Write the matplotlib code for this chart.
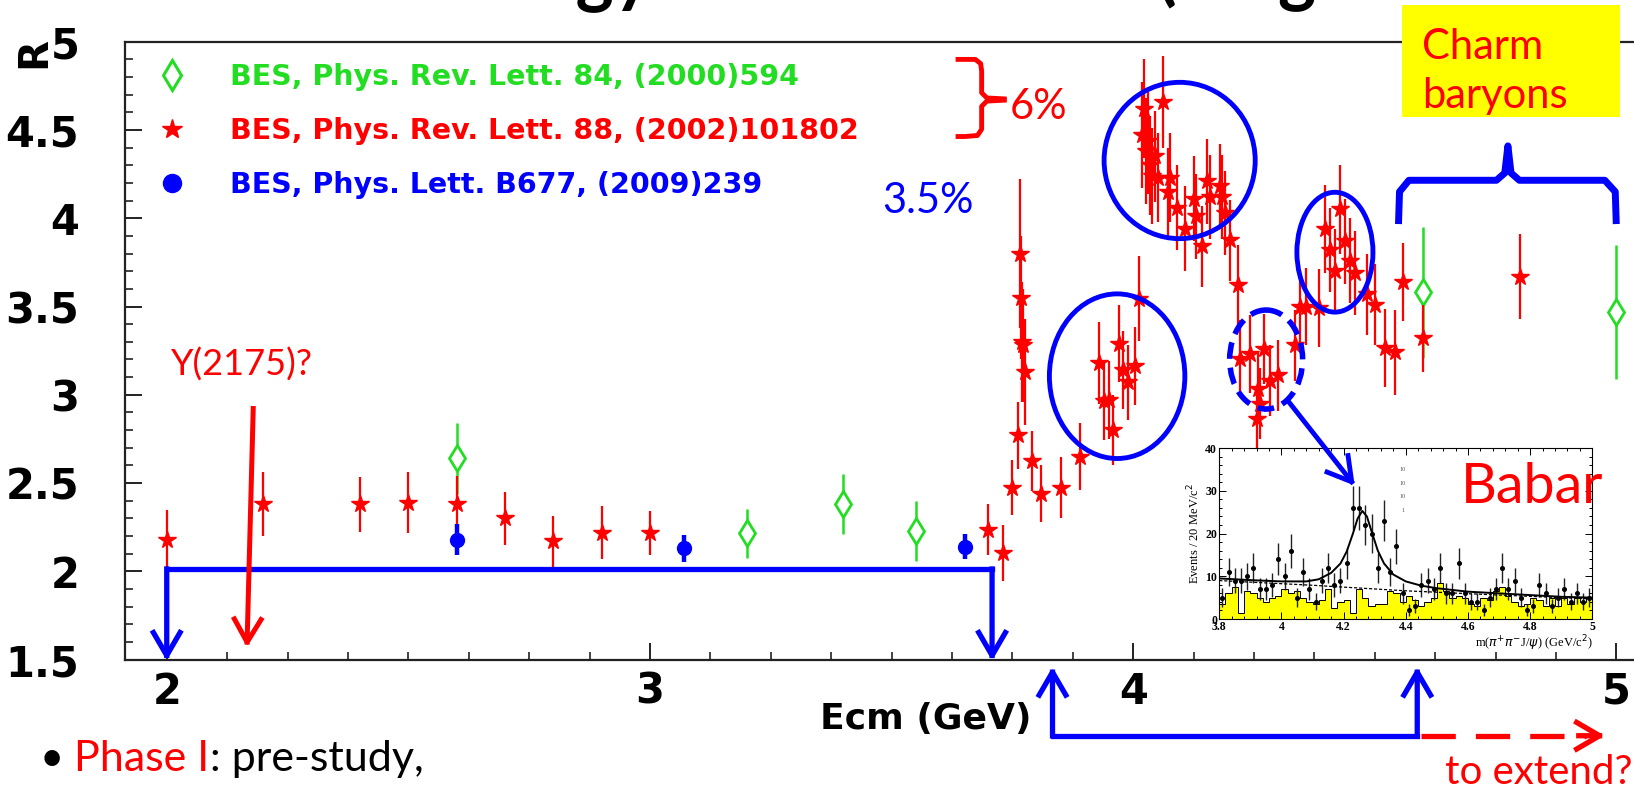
import numpy as np
import matplotlib
matplotlib.use("Agg")
import matplotlib.pyplot as plt
from matplotlib.patches import Ellipse, Rectangle
from matplotlib.lines import Line2D
from matplotlib.ticker import FixedLocator, MultipleLocator, FuncFormatter

plt.rcParams['font.family'] = ['DejaVu Sans']

# ---------------- data ----------------
green_x = [2.6, 3.2, 3.4, 3.55, 4.6, 5.0]
green_y = [2.64, 2.215, 2.38, 2.23, 3.58, 3.47]
green_err = [0.20, 0.14, 0.17, 0.17, 0.37, 0.38]

blue_x = [2.6, 3.07, 3.652]
blue_y = [2.18, 2.13, 2.14]
blue_err = [0.09, 0.075, 0.07]

red_x = [2.000, 2.200, 2.400, 2.500, 2.600, 2.700, 2.800, 2.900, 3.000,
         3.700, 3.730, 3.750, 3.762, 3.766, 3.768, 3.770, 3.773, 3.776,
         3.790, 3.810, 3.850, 3.890, 3.930, 3.940, 3.950, 3.958, 3.970,
         3.980, 3.990, 4.003, 4.013, 4.018, 4.022, 4.026, 4.030, 4.034,
         4.038, 4.045, 4.052, 4.062, 4.073, 4.076, 4.090, 4.107, 4.125,
         4.131, 4.142, 4.152, 4.159, 4.180, 4.183, 4.190, 4.200, 4.218,
         4.222, 4.242, 4.256, 4.259, 4.263, 4.270, 4.283, 4.300, 4.336,
         4.345, 4.357, 4.385, 4.397, 4.407, 4.417, 4.428, 4.438, 4.448,
         4.459, 4.483, 4.500, 4.521, 4.542, 4.559, 4.600, 4.800]
red_y = [2.18, 2.38, 2.38, 2.39, 2.38, 2.30, 2.17, 2.22, 2.215,
         2.235, 2.105, 2.475, 2.77, 3.80, 3.55, 3.30, 3.28, 3.13,
         2.625, 2.44, 2.475, 2.65, 3.18, 2.965, 2.97, 2.80, 3.29,
         3.14, 3.07, 3.165, 3.545, 4.47, 4.62, 4.38, 4.44, 4.30,
         4.24, 4.35, 4.23, 4.66, 4.15, 4.23, 4.06, 3.94, 4.11,
         4.01, 3.84, 4.21, 4.12, 4.18, 4.12, 4.03, 3.875, 3.62,
         3.205, 3.23, 2.865, 3.035, 2.95, 3.26, 3.08, 3.11, 3.28,
         3.50, 3.50, 3.49, 3.94, 3.82, 3.70, 4.05, 3.87, 3.76,
         3.69, 3.57, 3.51, 3.265, 3.24, 3.64, 3.32, 3.67]
red_err = [0.17, 0.18, 0.155, 0.175, 0.16, 0.15, 0.145, 0.15, 0.125,
           0.145, 0.16, 0.155, 0.19, 0.42, 0.35, 0.34, 0.32, 0.30,
           0.17, 0.16, 0.17, 0.19, 0.23, 0.22, 0.22, 0.20, 0.22,
           0.22, 0.21, 0.22, 0.24, 0.30, 0.28, 0.30, 0.30, 0.28,
           0.27, 0.26, 0.25, 0.26, 0.25, 0.25, 0.24, 0.24, 0.24,
           0.24, 0.23, 0.24, 0.24, 0.24, 0.24, 0.24, 0.23, 0.23,
           0.22, 0.22, 0.18, 0.20, 0.20, 0.20, 0.20, 0.20, 0.20,
           0.20, 0.22, 0.22, 0.25, 0.24, 0.24, 0.25, 0.24, 0.24,
           0.24, 0.23, 0.23, 0.22, 0.24, 0.22, 0.19, 0.24]

legend_labels = ["BES, Phys. Rev. Lett. 84, (2000)594",
                 "BES, Phys. Rev. Lett. 88, (2002)101802",
                 "BES, Phys. Lett. B677, (2009)239"]

x_ticks = [2, 3, 4, 5]

# Babar inset (counts per 20 MeV bin, 3.80 - 5.00 GeV)
inset_edges = np.linspace(3.8, 5.0, 61)
inset_counts = [5, 11, 9, 9, 10, 12, 7, 7, 8, 14,
                10, 16, 5, 11, 7, 4, 9, 12, 8, 9,
                13, 26, 26, 22, 20, 12, 23, 11, 17, 6,
                2, 3, 8, 9, 7, 12, 6, 6, 13, 6,
                4, 4, 2, 5, 7, 12, 7, 9, 5, 2,
                3, 8, 6, 3, 5, 7, 4, 6, 4, 5]
inset_err = [2.2, 3.3, 3.0, 3.0, 3.2, 3.5, 2.6, 2.6, 2.8, 3.7,
             3.2, 4.0, 2.2, 3.3, 2.6, 2.0, 3.0, 3.5, 2.8, 3.0,
             3.6, 5.1, 5.1, 4.7, 4.5, 3.5, 4.8, 3.3, 4.1, 2.4,
             1.4, 1.7, 2.8, 3.0, 2.6, 3.5, 2.4, 2.4, 3.6, 2.4,
             2.0, 2.0, 1.4, 2.2, 2.6, 3.5, 2.6, 3.0, 2.2, 1.4,
             1.7, 2.8, 2.4, 1.7, 2.2, 2.6, 2.0, 2.4, 2.0, 2.2]
inset_bkg = [3.5, 6, 7.5, 1.5, 6.5, 6, 5, 4, 5, 5.5,
             7, 6, 6.5, 5, 4, 3.5, 4.5, 7, 2.5, 4,
             4.5, 1.5, 7, 5, 3, 3.5, 3.5, 6.5, 6, 4,
             5.5, 4.5, 3, 4, 5, 8.5, 6.5, 5, 5.5, 5,
             3.5, 3, 5, 4.5, 6.5, 7.5, 5.5, 4, 3, 3.5,
             5, 4.5, 3, 5, 3, 5, 3.5, 5, 4, 5]
fit_x = [3.80, 3.90, 4.00, 4.08, 4.12, 4.16, 4.19, 4.21, 4.23, 4.245,
         4.26, 4.275, 4.29, 4.31, 4.33, 4.36, 4.40, 4.45, 4.50, 4.60,
         4.70, 4.80, 4.90, 5.00]
fit_y = [9.5, 9.1, 8.8, 8.8, 9.3, 10.8, 13.0, 15.8, 20.0, 23.5,
         25.3, 24.0, 20.5, 16.0, 13.0, 10.4, 8.8, 7.8, 7.2, 6.4,
         6.0, 5.6, 5.2, 5.0]
bkgfit_x = [3.8, 4.1, 4.4, 4.7, 5.0]
bkgfit_y = [9.0, 7.9, 6.6, 5.6, 4.7]

RED = '#ff0000'
GREEN = '#22dd22'
BLUE = '#0000ff'

# ---------------- figure ----------------
W, H = 1568.0, 760.0          # reference (shrunk) pixel frame used for layout
fig = plt.figure(figsize=(16.34, 7.92), dpi=100)
fig.patch.set_facecolor('white')

ax_left, ax_right, ax_top, ax_bot = 120, 1569.6, 40, 633
ax = fig.add_axes([ax_left / W, 1 - ax_bot / H, (ax_right - ax_left) / W, (ax_bot - ax_top) / H])
ax.set_xlim(1.9137, 5.04)
ax.set_ylim(1.5, 5.0)

ax.errorbar(green_x, green_y, yerr=green_err, fmt='d', ms=13, mfc='white', mec=GREEN,
            mew=2.0, ecolor=GREEN, elinewidth=1.8, capsize=0, zorder=3)
ax.errorbar(red_x, red_y, yerr=red_err, fmt='*', ms=13, color=RED, mec=RED,
            ecolor=RED, elinewidth=1.6, capsize=0, zorder=4)
ax.errorbar(blue_x, blue_y, yerr=blue_err, fmt='o', ms=10, color=BLUE,
            ecolor=BLUE, elinewidth=3.2, capsize=0, zorder=5)

ax.spines['right'].set_visible(False)
for s in ['left', 'top', 'bottom']:
    ax.spines[s].set_linewidth(1.6)
    ax.spines[s].set_color('#222222')

ax.xaxis.set_major_locator(FixedLocator(x_ticks))
ax.xaxis.set_minor_locator(MultipleLocator(0.125))
ax.yaxis.set_major_locator(MultipleLocator(0.5))
ax.yaxis.set_minor_locator(MultipleLocator(0.1))
ax.yaxis.set_major_formatter(FuncFormatter(lambda v, p: f"{v:g}"))
ax.xaxis.set_major_formatter(FuncFormatter(lambda v, p: f"{v:g}"))
ax.tick_params(which='both', direction='in', top=False, right=False, color='#222222')
ax.tick_params(which='major', length=12, width=1.4)
ax.tick_params(which='minor', length=6, width=1.2)
ax.tick_params(axis='y', which='major', pad=33)
ax.tick_params(axis='x', which='major', pad=8)
for lab in ax.get_xticklabels() + ax.get_yticklabels():
    lab.set_fontsize(30)
    lab.set_fontweight('bold')

handles = [Line2D([], [], ls='none', marker='d', ms=15, mfc='white', mec=GREEN, mew=2.2),
           Line2D([], [], ls='none', marker='*', ms=15, color=RED),
           Line2D([], [], ls='none', marker='o', ms=13, color=BLUE)]
leg = ax.legend(handles, legend_labels, loc='upper left', frameon=False,
                bbox_to_anchor=(151 / W, 1 - 60 / H), bbox_transform=fig.transFigure,
                prop={'family': 'DejaVu Sans', 'weight': 'bold', 'size': 20.5},
                labelcolor=[GREEN, RED, BLUE], handlelength=1.0, handletextpad=1.55,
                labelspacing=0.92, borderpad=0, borderaxespad=0)

# ---------------- inset (Babar) ----------------
ins = fig.add_axes([1170 / W, 1 - 594 / H, (1528 - 1170) / W, (594 - 430) / H], zorder=6)
ins.set_facecolor('white')
ins.stairs(inset_bkg, inset_edges, fill=True, color='#ffff00', zorder=1)
ins.stairs(inset_bkg, inset_edges, color='black', lw=0.7, zorder=2)
centers = 0.5 * (inset_edges[:-1] + inset_edges[1:])
ins.errorbar(centers, inset_counts, yerr=inset_err, fmt='o', ms=2.6, color='black',
             ecolor='#222222', elinewidth=1.0, capsize=0, zorder=4)
ins.plot(fit_x, fit_y, color='black', lw=1.4, zorder=5)
ins.plot(bkgfit_x, bkgfit_y, color='black', lw=0.9, ls=(0, (2.5, 1.5)), zorder=5)
ins.set_xlim(3.8, 5.0)
ins.set_ylim(0, 40)
ins.xaxis.set_major_locator(MultipleLocator(0.2))
ins.xaxis.set_minor_locator(MultipleLocator(0.04))
ins.yaxis.set_major_locator(MultipleLocator(10))
ins.yaxis.set_minor_locator(MultipleLocator(2))
ins.xaxis.set_major_formatter(FuncFormatter(lambda v, p: f"{v:g}"))
ins.tick_params(which='both', direction='in', top=True, right=True, width=0.7)
ins.tick_params(which='major', length=5, pad=1.5)
ins.tick_params(which='minor', length=2.5)
for lab in ins.get_xticklabels() + ins.get_yticklabels():
    lab.set_fontsize(8.5)
    lab.set_fontweight('bold')
    lab.set_family('Liberation Serif')
for s in ins.spines.values():
    s.set_linewidth(0.8)
ins.set_ylabel('Events / 20 MeV/c$^2$', family='Liberation Serif', fontsize=9, labelpad=2)
ins.set_xlabel(r'm($\pi^{+}\pi^{-}$J/$\psi$) (GeV/c$^{2}$)', family='Liberation Serif',
               fontsize=9, labelpad=0, loc='right')
for i, t in enumerate(['10', '10', '10', '1']):
    ins.text(4.39, 35 - 3.2 * i, t, fontsize=4.5, color='#555555', ha='center', va='center',
             family='Liberation Serif')

# ---------------- overlay for slide annotations (reference pixel frame) ----------------
ov = fig.add_axes([0, 0, 1, 1], zorder=20)
ov.set_xlim(0, W)
ov.set_ylim(H, 0)
ov.axis('off')
ov.patch.set_alpha(0)

LATO = 'Lato'

def arrow(x0, y0, x1, y1, color, lw=3.2, hl=0.55, hw=0.32):
    ov.annotate('', xy=(x1, y1), xytext=(x0, y0),
                arrowprops=dict(arrowstyle=f'->,head_length={hl},head_width={hw}',
                                color=color, lw=lw, shrinkA=0, shrinkB=0,
                                mutation_scale=30, capstyle='projecting'))

# title fragments cut at the top edge (only descenders visible)
for tx, ts, ha in [(626, 'Energy', 'right'), (1110, '(', 'left'), (1226, 'g', 'left')]:
    ov.text(tx, -3, ts, ha=ha, va='baseline', fontsize=52, family=LATO,
            fontweight='bold', color='black')

# axis titles
ov.text(33, 50, 'R', rotation=90, ha='center', va='center', fontsize=29, fontweight='bold')
ov.text(990, 690, 'Ecm (GeV)', ha='right', va='center', fontsize=26, fontweight='bold')

# red brace + 6%
ov.plot([917, 936, 941, 942, 942, 947, 966], [57, 57, 61, 68, 89, 94, 95], color=RED, lw=3.5,
        solid_capstyle='butt', solid_joinstyle='round')
ov.plot([966, 947, 942, 942, 938, 926, 917], [96, 97, 102, 124, 130, 131, 131], color=RED, lw=3.5,
        solid_capstyle='butt', solid_joinstyle='round')
ov.text(969, 103, '6%', color=RED, fontsize=30, family=LATO, ha='left', va='center')
ov.text(847, 193, '3.5%', color=BLUE, fontsize=30, family=LATO, ha='left', va='center')

# ellipses around structures
ov.add_patch(Ellipse((1132, 154), 145, 150, fill=False, ec=BLUE, lw=3.5))
ov.add_patch(Ellipse((1072, 361), 130, 158, fill=False, ec=BLUE, lw=3.5))
ov.add_patch(Ellipse((1215, 345), 70, 95, fill=False, ec=BLUE, lw=4, ls=(0, (3, 1.6))))
ov.add_patch(Ellipse((1281, 242), 73, 115, fill=False, ec=BLUE, lw=3.5))
arrow(1237, 386, 1300, 466, BLUE, lw=3.5)

# Charm baryons
ov.add_patch(Rectangle((1345, 5), 210, 107, fc='#ffff00', ec='none'))
ov.text(1365, 45, 'Charm', color=RED, fontsize=30, family=LATO, ha='left', va='center')
ov.text(1365, 92, 'baryons', color=RED, fontsize=30, family=LATO, ha='left', va='center')
ov.plot([1342, 1343, 1352, 1436, 1444, 1447, 1450, 1458, 1540, 1550, 1551],
        [215, 184, 173, 173, 166, 140, 166, 173, 173, 184, 215], color=BLUE, lw=5,
        solid_joinstyle='round', solid_capstyle='butt')

# Y(2175)
ov.text(164, 350, 'Y(2175)?', color=RED, fontsize=26, family=LATO, ha='left', va='center')
arrow(243, 392, 237, 621, RED, lw=3.6)

# Phase I bracket
ov.plot([160, 952], [546, 546], color=BLUE, lw=3.8, solid_capstyle='projecting')
arrow(160, 546, 160, 634, BLUE, lw=3.8)
arrow(952, 546, 952, 634, BLUE, lw=3.8)

# lower bracket
ov.plot([1010, 1360], [706, 706], color=BLUE, lw=3.8, solid_capstyle='projecting')
arrow(1010, 706, 1010, 640, BLUE, lw=3.8)
arrow(1360, 706, 1360, 640, BLUE, lw=3.8)
ov.plot([1364, 1522], [706, 706], color=RED, lw=3.8, ls=(0, (6.5, 3.8)))
arrow(1515, 706, 1540, 706, RED, lw=3.8)
ov.text(1567, 741, 'to extend?', color=RED, fontsize=29, family=LATO, ha='right', va='center')

# Babar label
ov.text(1470, 468, 'Babar', color=RED, fontsize=40, family=LATO, ha='center', va='center')

# bottom bullet line (pieces chained one after another)
t0 = ov.text(38, 728, '\u2022 ', color='black', fontsize=30, family=LATO, ha='left', va='center')
t1 = ov.annotate('Phase I', xy=(1, 0), xycoords=t0, color=RED, fontsize=31, family=LATO,
                 ha='left', va='bottom')
ov.annotate(': pre-study,', xy=(1, 0), xycoords=t1, color='black', fontsize=31, family=LATO,
            ha='left', va='bottom')

fig.savefig('out.png', dpi=100, facecolor='white')
